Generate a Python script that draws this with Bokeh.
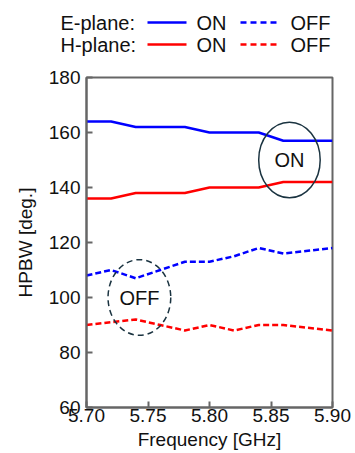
from bokeh.plotting import figure
from bokeh.layouts import column
from bokeh.models import Range1d, FixedTicker, PrintfTickFormatter
from bokeh.core.properties import value
from bokeh.embed import file_html
from bokeh.resources import INLINE

# ---- data ----
freq = [5.70, 5.72, 5.74, 5.76, 5.78, 5.80, 5.82, 5.84, 5.86, 5.88, 5.90]
e_on = [164, 164, 162, 162, 162, 160, 160, 160, 157, 157, 157]
h_on = [136, 136, 138, 138, 138, 140, 140, 140, 142, 142, 142]
e_off = [108, 110, 107, 110, 113, 113, 115, 118, 116, 117, 118]
h_off = [90, 91, 92, 90, 88, 90, 88, 90, 90, 89, 88]
x_ticks = [5.70, 5.75, 5.80, 5.85, 5.90]
y_ticks = [60, 80, 100, 120, 140, 160, 180]

on_mark = (5.865, 150, 0.050, 27.5, "ON")
off_mark = (5.743, 100, 0.051, 27.5, "OFF")

FONT = "Liberation Sans"
BLUE = "#0000ff"
RED = "#ff0000"
AXC = "#666666"
ELC = "#1a3340"
TXT = "#111111"

W = 354
LH = 58
FL, FR = 86, 332   # main frame left/right in page pixels

# ---- legend strip (own, unaligned frame covering the full width) ----
lg = figure(width=W, height=LH, x_range=Range1d(0, W), y_range=Range1d(LH, 0),
            toolbar_location=None, output_backend="svg",
            min_border_left=0, min_border_right=0, min_border_top=0, min_border_bottom=0,
            outline_line_color=None, x_axis_type=None, y_axis_type=None)
lg.grid.visible = False
rows = [("E-plane:", BLUE, 22), ("H-plane:", RED, 44)]
for lab, col, yy in rows:
    for tx, t in [(60, lab), (196, "ON"), (290, "OFF")]:
        lg.text(x=[tx], y=[yy], text=[t], text_font=value(FONT), text_font_size="20px",
                text_baseline="middle", text_align="left", text_color=TXT)
    lg.line(x=[147, 186], y=[yy, yy], line_color=col, line_width=2.5)
    lg.line(x=[240, 277], y=[yy, yy], line_color=col, line_width=2.5, line_dash="6 4")

# ---- main plot ----
p = figure(width=W, height=452 - LH, x_range=Range1d(5.70, 5.90), y_range=Range1d(60, 180),
           toolbar_location=None, output_backend="svg",
           min_border_left=FL, min_border_right=W - FR, min_border_top=77 - LH,
           min_border_bottom=45, outline_line_color=AXC, outline_line_width=2)
p.grid.visible = False

if "frame_align" in lg.properties():
    lg.frame_align = False
    p.frame_align = False

p.line(freq, e_on, line_color=BLUE, line_width=2.5)
p.line(freq, h_on, line_color=RED, line_width=2.5)
p.line(freq, e_off, line_color=BLUE, line_width=2.5, line_dash="6 3")
p.line(freq, h_off, line_color=RED, line_width=2.5, line_dash="6 3")

for (cx, cy, w, h, lab), dash in [(on_mark, "solid"), (off_mark, "6 4")]:
    p.ellipse(x=[cx], y=[cy], width=[w], height=[h], fill_color=None,
              line_color=ELC, line_width=1.5, line_dash=dash)
    p.text(x=[cx], y=[cy], text=[lab], text_font=value(FONT), text_font_size="20px",
           text_align="center", text_baseline="middle", text_color=TXT)

for ax in (p.xaxis[0], p.yaxis[0]):
    ax.axis_line_color = AXC
    ax.axis_line_width = 2
    ax.major_tick_line_color = AXC
    ax.major_tick_line_width = 2
    ax.major_tick_in = 6
    ax.major_tick_out = 0
    ax.minor_tick_line_color = None
    ax.major_label_text_font = FONT
    ax.major_label_text_color = TXT
    ax.axis_label_text_font = FONT
    ax.axis_label_text_font_style = "normal"
    ax.axis_label_text_color = TXT

p.xaxis.ticker = FixedTicker(ticks=x_ticks)
p.xaxis.formatter = PrintfTickFormatter(format="%.2f")
p.xaxis.major_label_text_font_size = "19px"
p.xaxis.major_label_standoff = 1
p.xaxis.axis_label = "Frequency [GHz]"
p.xaxis.axis_label_text_font_size = "19px"
p.xaxis.axis_label_standoff = 4

p.yaxis.ticker = FixedTicker(ticks=y_ticks)
p.yaxis.major_label_text_font_size = "19px"
p.yaxis.major_label_standoff = 6
p.yaxis.axis_label = "HPBW [deg.]"
p.yaxis.axis_label_text_font_size = "19px"
p.yaxis.axis_label_standoff = 10

layout = column(lg, p, spacing=0)
open("out.html", "w").write(file_html(layout, INLINE))
